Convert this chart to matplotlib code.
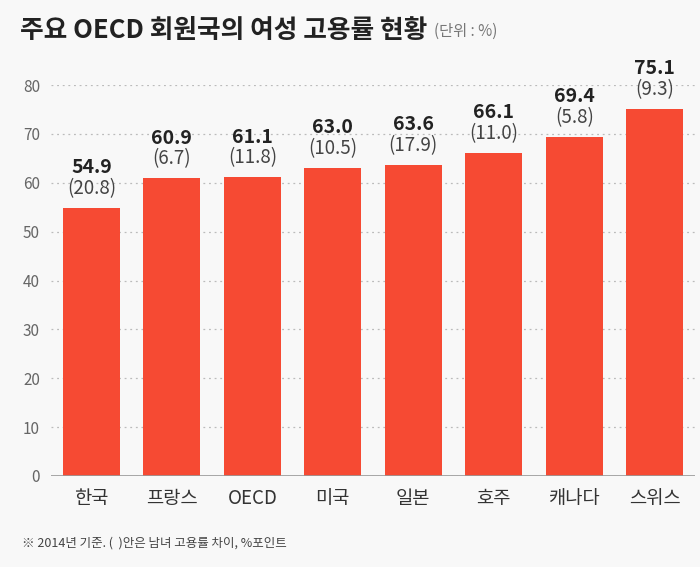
import matplotlib
matplotlib.use("Agg")
import matplotlib.pyplot as plt

plt.rcParams['font.family'] = ['Noto Sans CJK KR', 'DejaVu Sans']

categories = ['한국', '프랑스', 'OECD', '미국', '일본', '호주', '캐나다', '스위스']
rates = [54.9, 60.9, 61.1, 63.0, 63.6, 66.1, 69.4, 75.1]
gaps = ['20.8', '6.7', '11.8', '10.5', '17.9', '11.0', '5.8', '9.3']
yticks = [0, 10, 20, 30, 40, 50, 60, 70, 80]

bg = '#f8f8f8'
fig = plt.figure(figsize=(7, 5.67), dpi=100, facecolor=bg)
ax = fig.add_axes([0.073, 0.1605, 0.92, 0.6895], facecolor=bg)

x = list(range(len(categories)))
ax.bar(x, rates, width=0.71, color='#f64a33', zorder=3)
ax.set_xlim(-0.5, len(categories) - 0.5)
ax.set_ylim(0, 80)
ax.set_yticks(yticks)
ax.set_yticklabels([str(v) for v in yticks], color='#666666', fontsize=11)
ax.tick_params(axis='y', length=0, pad=8)
ax.tick_params(axis='x', length=0, pad=9)
ax.set_xticks(x)
ax.set_xticklabels(categories, fontsize=13.5, color='#333333')
for s in ax.spines.values():
    s.set_visible(False)
ax.grid(axis='y', linestyle=(0, (1.5, 3)), color='#bbbbbb', linewidth=0.9, zorder=0)
ax.axhline(0, color='#999999', linewidth=1.2, zorder=4)

for xi, r, g in zip(x, rates, gaps):
    ax.annotate(f'{r:.1f}', (xi, r), xytext=(0, 29), textcoords='offset points',
                ha='center', va='center', fontsize=14, fontweight='bold', color='#222222',
                annotation_clip=False)
    ax.annotate(f'({g})', (xi, r), xytext=(0, 14), textcoords='offset points',
                ha='center', va='center', fontsize=13.5, color='#444444',
                annotation_clip=False)

title = fig.text(0.029, 0.947, '주요 OECD 회원국의 여성 고용률 현황', fontsize=18.5, fontweight='bold',
                 color='#222222', va='center', ha='left')
fig.canvas.draw()
bb = title.get_window_extent(fig.canvas.get_renderer())
fig.text((bb.x1 + 6) / fig.bbox.width, 0.944, '(단위 : %)', fontsize=11, color='#777777',
         va='center', ha='left')
fig.text(0.031, 0.042, '※ 2014년 기준. (  )안은 남녀 고용률 차이, %포인트', fontsize=9,
         color='#444444', va='center', ha='left')

fig.savefig('out.png', dpi=100, facecolor=bg)
